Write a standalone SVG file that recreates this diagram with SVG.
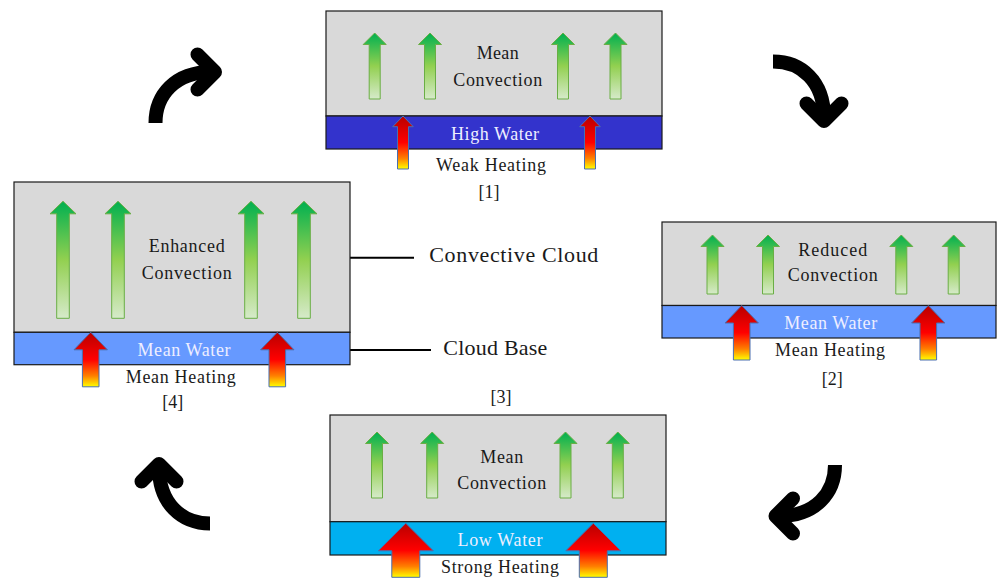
<svg xmlns="http://www.w3.org/2000/svg" xmlns:xlink="http://www.w3.org/1999/xlink" width="997" height="579" viewBox="0 0 997 579">
<style>
.cloud{fill:#D9D9D9;stroke:#1a1a1a;stroke-width:1.2}
.wHigh{fill:#3333CC;stroke:#1a1a1a;stroke-width:1.2}
.wMean{fill:#6699FF;stroke:#1a1a1a;stroke-width:1.2}
.wLow{fill:#00B0F0;stroke:#1a1a1a;stroke-width:1.2}
.g{fill:url(#gg);stroke:#6AAE45;stroke-width:1}
.r{fill:url(#rg);stroke:#4A6FB0;stroke-width:1}
text{font-family:"Liberation Serif","DejaVu Serif",serif;font-size:18px;fill:#1a1a1a;text-anchor:middle}
.wt{fill:#EEEEFF}
.lab{font-size:22px;text-anchor:start}
.lead{stroke:#000;stroke-width:2;fill:none}
.shaft{fill:none;stroke:#000;stroke-width:14;stroke-linecap:butt}
.head{fill:none;stroke:#000;stroke-width:14;stroke-linecap:round;stroke-linejoin:round}
</style>
<defs>
<linearGradient id="gg" x1="0" y1="0" x2="0" y2="1">
<stop offset="0" stop-color="#00B050"/>
<stop offset="0.5" stop-color="#92D050"/>
<stop offset="1" stop-color="#D6EACA"/>
</linearGradient>
<linearGradient id="rg" x1="0" y1="0" x2="0" y2="1">
<stop offset="0" stop-color="#B80000"/>
<stop offset="0.5" stop-color="#FF0000"/>
<stop offset="0.8" stop-color="#FF8000"/>
<stop offset="1" stop-color="#FFFF00"/>
</linearGradient>
<path id="gS" d="M0,0 L11.5,11.5 L5.5,11.5 L5.5,66 L-5.5,66 L-5.5,11.5 L-11.5,11.5 Z"/>
<path id="gR" d="M0,0 L11.5,11.5 L5.5,11.5 L5.5,59 L-5.5,59 L-5.5,11.5 L-11.5,11.5 Z"/>
<path id="gL" d="M0,0 L13,12.5 L6.3,12.5 L6.3,117 L-6.3,117 L-6.3,12.5 L-13,12.5 Z"/>
<path id="rT" d="M0,0 L10.3,10.7 L5.5,10.7 L5.5,53 L-5.5,53 L-5.5,10.7 L-10.3,10.7 Z"/>
<path id="rM" d="M0,0 L16.7,17.5 L8.3,17.5 L8.3,54.5 L-8.3,54.5 L-8.3,17.5 L-16.7,17.5 Z"/>
<path id="rB" d="M0,0 L27.5,27.5 L14,27.5 L14,54 L-14,54 L-14,27.5 L-27.5,27.5 Z"/>
<g id="cyc">
<path class="shaft" d="M0,0 C0,-28 19.5,-51 56,-51"/>
<path class="head" d="M42,-68.5 L59.5,-51 L42,-33.5"/>
</g>
</defs>

<g id="connectors">
<use xlink:href="#cyc" transform="translate(155.5,123)"/>
<use xlink:href="#cyc" transform="translate(773,61.5) rotate(90)"/>
<use xlink:href="#cyc" transform="translate(835,465) rotate(180)"/>
<use xlink:href="#cyc" transform="translate(210,523.5) rotate(270)"/>
<line class="lead" x1="350" y1="257.7" x2="414" y2="257.7"/>
<line class="lead" x1="350" y1="350" x2="431" y2="350"/>
</g>

<g id="state1">
<rect class="cloud" x="326" y="11" width="336" height="105"/>
<rect class="wHigh" x="326" y="116" width="336" height="33"/>
<use class="g" xlink:href="#gS" x="374.7" y="33"/>
<use class="g" xlink:href="#gS" x="430" y="33"/>
<use class="g" xlink:href="#gS" x="563" y="33"/>
<use class="g" xlink:href="#gS" x="615.5" y="33"/>
<text x="497.7" y="59" textLength="42">Mean</text>
<text x="497.7" y="86" textLength="89">Convection</text>
<text class="wt" x="495" y="140" textLength="88">High Water</text>
<use class="r" xlink:href="#rT" x="403" y="116"/>
<use class="r" xlink:href="#rT" x="590" y="116"/>
<text x="491" y="171" textLength="110">Weak Heating</text>
<text x="489" y="198">[1]</text>
</g>

<g id="state2">
<rect class="cloud" x="662" y="222" width="334" height="83.5"/>
<rect class="wMean" x="662" y="305.5" width="334" height="32.5"/>
<use class="g" xlink:href="#gR" x="712.5" y="235"/>
<use class="g" xlink:href="#gR" x="768" y="235"/>
<use class="g" xlink:href="#gR" x="901.3" y="235"/>
<use class="g" xlink:href="#gR" x="953.7" y="235"/>
<text x="832.7" y="255.7" textLength="69">Reduced</text>
<text x="832.7" y="281.3" textLength="90">Convection</text>
<text class="wt" x="830.7" y="329" textLength="93">Mean Water</text>
<use class="r" xlink:href="#rM" x="741.7" y="305.5"/>
<use class="r" xlink:href="#rM" x="928.3" y="305.5"/>
<text x="830" y="356.3" textLength="110">Mean Heating</text>
<text x="832.3" y="384.7">[2]</text>
</g>

<g id="state3">
<text x="501" y="402.7">[3]</text>
<rect class="cloud" x="330" y="415" width="336" height="106.7"/>
<rect class="wLow" x="330" y="521.7" width="336" height="33.3"/>
<use class="g" xlink:href="#gS" x="377" y="432"/>
<use class="g" xlink:href="#gS" x="432.2" y="432"/>
<use class="g" xlink:href="#gS" x="565.5" y="432"/>
<use class="g" xlink:href="#gS" x="617.8" y="432"/>
<text x="501.7" y="462.7" textLength="43">Mean</text>
<text x="501.7" y="489" textLength="89">Convection</text>
<text class="wt" x="500" y="546" textLength="85">Low Water</text>
<use class="r" xlink:href="#rB" x="405.8" y="523.3"/>
<use class="r" xlink:href="#rB" x="593.3" y="523.3"/>
<text x="500" y="572.7" textLength="118">Strong Heating</text>
</g>

<g id="state4">
<rect class="cloud" x="14" y="182" width="336" height="150.3"/>
<rect class="wMean" x="14" y="332.3" width="336" height="32.4"/>
<use class="g" xlink:href="#gL" x="63" y="201.3"/>
<use class="g" xlink:href="#gL" x="118" y="201.3"/>
<use class="g" xlink:href="#gL" x="251" y="201.3"/>
<use class="g" xlink:href="#gL" x="304" y="201.3"/>
<text x="186.7" y="252" textLength="76">Enhanced</text>
<text x="186.7" y="278.7" textLength="90">Convection</text>
<text class="wt" x="184" y="356.3" textLength="93">Mean Water</text>
<use class="r" xlink:href="#rM" x="90.7" y="332.3"/>
<use class="r" xlink:href="#rM" x="277.3" y="332.3"/>
<text x="180.7" y="383" textLength="110">Mean Heating</text>
<text x="172.7" y="408">[4]</text>
</g>

<g id="labels">
<text class="lab" x="429.3" y="261.7" textLength="169">Convective Cloud</text>
<text class="lab" x="443.3" y="355" textLength="104">Cloud Base</text>
</g>
</svg>
